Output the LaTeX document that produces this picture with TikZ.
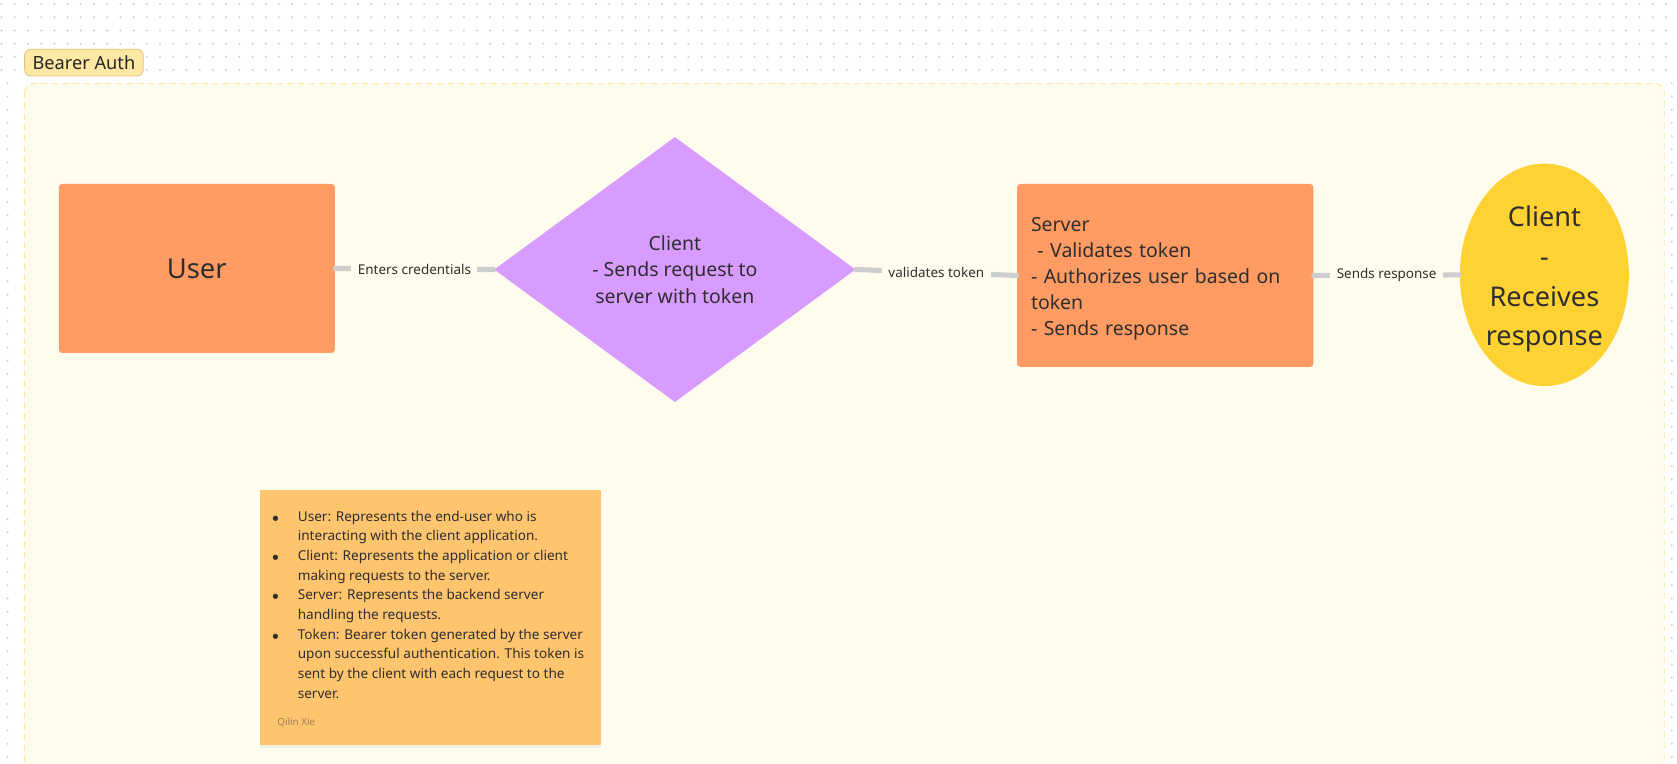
\documentclass[tikz,border=0pt]{standalone}
\usepackage{fontspec}
\setmainfont{Noto Sans}
\usepackage{tikz}
\usetikzlibrary{shapes.geometric, shadows, positioning}
\definecolor{framebg}{HTML}{FFFCEE}
\definecolor{frameline}{HTML}{FFE7A0}
\definecolor{tagfill}{HTML}{FFE8A3}
\definecolor{tagline}{HTML}{E2C07E}
\definecolor{boxorange}{HTML}{FF9B63}
\definecolor{clientviolet}{HTML}{D89BFF}
\definecolor{recvyellow}{HTML}{FFD233}
\definecolor{noteorange}{HTML}{FFC46E}
\definecolor{noteauthor}{HTML}{A0805A}
\definecolor{textgray}{HTML}{2E2E2E}
\definecolor{linkgray}{HTML}{CDCDCD}
\definecolor{dotgray}{HTML}{D2D2D2}

\begin{document}
\begin{tikzpicture}[x=0.5pt, y=-0.5pt,
	box/.style={fill=boxorange, rounded corners=1.5pt, text=textgray},
	link/.style={draw=linkgray, line width=2.4pt, line cap=round},
	linklabel/.style={fill=framebg, text=textgray, inner sep=3pt, font=\fontsize{6.3}{7}\selectfont}]
\useasboundingbox (0,0) rectangle (1568,714);

% dotted canvas, only where the frame does not cover it
\foreach \i in {0,...,127}
	\foreach \j in {0,...,5}
		\fill[dotgray] (1.45+12.35*\i, 3.75+12.35*\j) circle (0.55pt);
\foreach \i in {0,126}
	\foreach \j in {6,...,57}
		\fill[dotgray] (7+12.35*\i, 3.75+12.35*\j) circle (0.55pt);

% frame and its tag
\draw[fill=framebg, draw=frameline, dashed, dash pattern=on 3pt off 2pt, rounded corners=4pt] (23,78) rectangle (1556,740);
\node[fill=tagfill, draw=tagline, rounded corners=3pt, minimum width=55.5pt, minimum height=12.5pt, inner sep=0pt, text=black!85, font=\fontsize{8.5}{10}\selectfont] (title) at (78.5,58.5) {Bearer Auth};

\node[box, minimum width=129pt, minimum height=79pt, font=\fontsize{12.8}{15}\selectfont] (user) at (184,251) {User};

\node[diamond, fill=clientviolet, minimum width=169pt, minimum height=124pt, inner sep=0pt, align=center, text=textgray, font=\fontsize{9.1}{12.25}\selectfont] (client) at (631,252) {Client\\- Sends request to\\server with token};

\node[box, minimum width=138.5pt, minimum height=85.5pt, inner xsep=6.5pt, text width=125.5pt, align=left, font=\fontsize{9.1}{12.15}\selectfont] (server) at (1089.5,257.5) {\rule{0pt}{9.8pt}Server\\\hspace{3pt}- Validates token\\- Authorizes user based on\\token\\- Sends response};

\node[ellipse, fill=recvyellow, minimum width=79pt, minimum height=104pt, inner sep=0pt] (recv) at (1444,257) {};
\node[align=center, text=textgray, inner sep=0pt, font=\fontsize{12.7}{18.5}\selectfont] (recvtext) at (1444,261) {Client\\-\\Receives\\response};

% connectors
\draw[link] (user.east) -- node[linklabel] {Enters credentials} (client.west);
\draw[link] (client.east) -- node[linklabel] {validates token} (server.west);
\draw[link] (server.east) -- node[linklabel] {Sends response} (recv.west);

% sticky note
\node[fill=noteorange, minimum width=159.5pt, minimum height=119.5pt, inner sep=0pt,
	drop shadow={opacity=0.1, shadow xshift=0pt, shadow yshift=-1.2pt}] (note) at (402.5,577.5) {};
\node[anchor=north west, inner sep=0pt, text=textgray, font=\fontsize{6.35}{9.2}\selectfont] (notetext) at (253.5,474) {%
	\begin{tabular}{@{}l@{\hspace{8.6pt}}l@{}}
	$\scriptstyle\bullet$ & User: Represents the end-user who is\\
	 & interacting with the client application.\\
	$\scriptstyle\bullet$ & Client: Represents the application or client\\
	 & making requests to the server.\\
	$\scriptstyle\bullet$ & Server: Represents the backend server\\
	 & handling the requests.\\
	$\scriptstyle\bullet$ & Token: Bearer token generated by the server\\
	 & upon successful authentication. This token is\\
	 & sent by the client with each request to the\\
	 & server.
	\end{tabular}};
\node[anchor=west, inner sep=0pt, text=noteauthor, font=\fontsize{4.6}{5}\selectfont] (author) at (259,676) {Qilin Xie};

\end{tikzpicture}
\end{document}
